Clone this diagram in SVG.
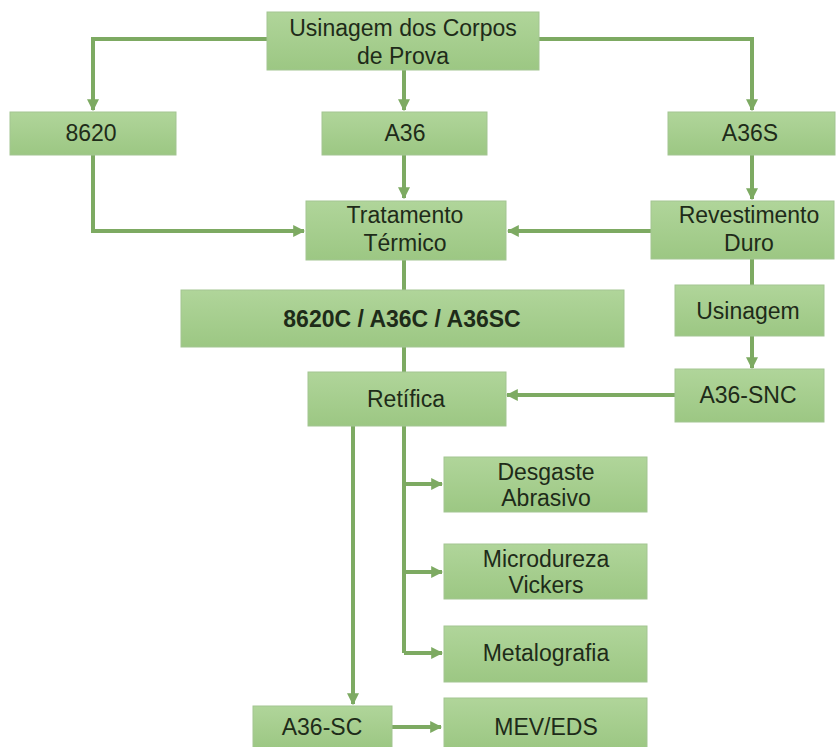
<svg xmlns="http://www.w3.org/2000/svg" width="836" height="747" viewBox="0 0 836 747">
<defs>
<linearGradient id="g" x1="0" y1="0" x2="0" y2="1">
<stop offset="0" stop-color="#b0d59a"/>
<stop offset="1" stop-color="#9cc783"/>
</linearGradient>
<marker id="ah" viewBox="0 0 10 10" refX="9" refY="5" markerWidth="3" markerHeight="3" orient="auto" markerUnits="strokeWidth">
<path d="M0,0 L10,5 L0,10 z" fill="#7daa62"/>
</marker>
</defs>
<style>
.box{fill:url(#g);stroke:#a3c592;stroke-width:1}
.t{font-family:"Liberation Sans",Arial,sans-serif;font-size:23px;fill:#1e2b19;text-anchor:middle}
.b{font-weight:bold}
.c{fill:none;stroke:#7daa62;stroke-width:4}
.a{marker-end:url(#ah)}
</style>
<rect width="836" height="747" fill="#ffffff"/>
<g id="connectors">
<path class="c a" d="M267,39 H93 V110"/>
<path class="c a" d="M539,39 H752 V110"/>
<path class="c a" d="M404,70 V110"/>
<path class="c a" d="M93,155 V231 H304"/>
<path class="c a" d="M404,155 V198"/>
<path class="c a" d="M752,155 V199"/>
<path class="c a" d="M651,231 H508"/>
<path class="c" d="M404,260 V290"/>
<path class="c" d="M752,259 V285"/>
<path class="c a" d="M752,336 V368"/>
<path class="c" d="M404,347 V372"/>
<path class="c a" d="M675,395 H507"/>
<path class="c" d="M404,426 V653"/>
<path class="c a" d="M404,484 H442"/>
<path class="c a" d="M404,572 H442"/>
<path class="c a" d="M404,653 H442"/>
<path class="c a" d="M353,426 V704"/>
<path class="c a" d="M392,727 H441"/>
</g>
<g id="n-top"><rect class="box" x="267" y="12" width="272" height="58"/><text class="t" x="403" y="36">Usinagem dos Corpos</text><text class="t" x="403" y="64">de Prova</text></g>
<g id="n-8620"><rect class="box" x="10" y="112" width="166" height="43"/><text class="t" x="91" y="141">8620</text></g>
<g id="n-a36"><rect class="box" x="322" y="112" width="165" height="43"/><text class="t" x="405" y="141">A36</text></g>
<g id="n-a36s"><rect class="box" x="668" y="112" width="167" height="43"/><text class="t" x="750" y="141">A36S</text></g>
<g id="n-trat"><rect class="box" x="306" y="201" width="200" height="59"/><text class="t" x="405" y="223">Tratamento</text><text class="t" x="405" y="251">Térmico</text></g>
<g id="n-rev"><rect class="box" x="651" y="201" width="183" height="58"/><text class="t" x="749" y="223">Revestimento</text><text class="t" x="749" y="251">Duro</text></g>
<g id="n-cc"><rect class="box" x="181" y="290" width="443" height="57"/><text class="t b" x="402" y="327">8620C / A36C / A36SC</text></g>
<g id="n-usi"><rect class="box" x="675" y="285" width="149" height="51"/><text class="t" x="748" y="319">Usinagem</text></g>
<g id="n-ret"><rect class="box" x="308" y="372" width="198" height="54"/><text class="t" x="406" y="407">Retífica</text></g>
<g id="n-snc"><rect class="box" x="675" y="369" width="149" height="53"/><text class="t" x="748" y="403">A36-SNC</text></g>
<g id="n-desg"><rect class="box" x="444" y="457" width="203" height="55"/><text class="t" x="546" y="480">Desgaste</text><text class="t" x="546" y="506">Abrasivo</text></g>
<g id="n-micro"><rect class="box" x="444" y="544" width="203" height="55"/><text class="t" x="546" y="567">Microdureza</text><text class="t" x="546" y="593">Vickers</text></g>
<g id="n-metal"><rect class="box" x="444" y="626" width="203" height="56"/><text class="t" x="546" y="661">Metalografia</text></g>
<g id="n-a36sc"><rect class="box" x="253" y="706" width="139" height="42"/><text class="t" x="322" y="735">A36-SC</text></g>
<g id="n-mev"><rect class="box" x="444" y="698" width="203" height="50"/><text class="t" x="546" y="735">MEV/EDS</text></g>
</svg>
